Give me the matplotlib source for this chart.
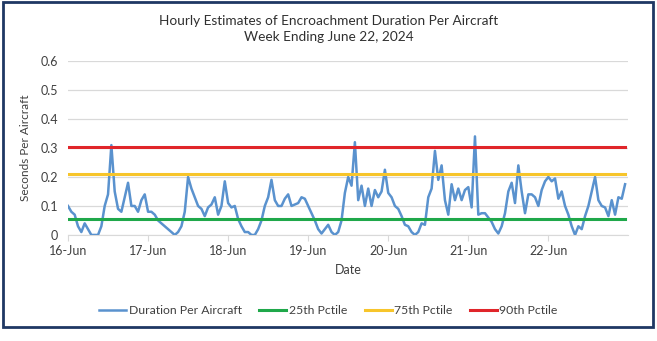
import numpy as np
import pandas as pd
import matplotlib
matplotlib.use('Agg')
import matplotlib.pyplot as plt
from matplotlib.patches import Rectangle

plt.rcParams['font.family'] = ['Lato', 'DejaVu Sans']

# hourly values, 16-Jun 00:00 .. 22-Jun 23:00
duration = [
    0.10, 0.08, 0.07, 0.03, 0.01, 0.04, 0.02, 0.00, 0.00, 0.00, 0.03, 0.10,
    0.14, 0.31, 0.15, 0.09, 0.08, 0.13, 0.18, 0.10, 0.10, 0.08, 0.12, 0.14,
    0.08, 0.08, 0.07, 0.05, 0.04, 0.03, 0.02, 0.01, 0.00, 0.01, 0.03, 0.08,
    0.20, 0.16, 0.13, 0.10, 0.09, 0.065, 0.095, 0.105, 0.13, 0.07, 0.10, 0.185,
    0.11, 0.095, 0.10, 0.055, 0.03, 0.01, 0.01, 0.00, 0.00, 0.02, 0.05, 0.10,
    0.13, 0.19, 0.12, 0.10, 0.10, 0.125, 0.14, 0.10, 0.105, 0.11, 0.13, 0.125,
    0.10, 0.075, 0.05, 0.02, 0.005, 0.02, 0.035, 0.01, 0.00, 0.01, 0.05, 0.145,
    0.20, 0.17, 0.32, 0.12, 0.17, 0.10, 0.16, 0.10, 0.155, 0.13, 0.15, 0.225,
    0.145, 0.13, 0.10, 0.09, 0.065, 0.035, 0.03, 0.01, 0.00, 0.01, 0.04, 0.035,
    0.13, 0.16, 0.29, 0.19, 0.24, 0.12, 0.07, 0.175, 0.12, 0.16, 0.12, 0.155,
    0.165, 0.095, 0.34, 0.07, 0.075, 0.075, 0.06, 0.045, 0.02, 0.005, 0.03, 0.075,
    0.15, 0.18, 0.11, 0.24, 0.15, 0.075, 0.14, 0.14, 0.13, 0.10, 0.155, 0.185,
    0.20, 0.185, 0.195, 0.125, 0.15, 0.10, 0.07, 0.03, 0.00, 0.03, 0.02, 0.065,
    0.10, 0.15, 0.20, 0.12, 0.10, 0.095, 0.065, 0.12, 0.07, 0.13, 0.125, 0.175,
]
p25 = 0.056
p75 = 0.212
p90 = 0.302
day_labels = ['16-Jun', '17-Jun', '18-Jun', '19-Jun', '20-Jun', '21-Jun', '22-Jun']

hours = np.arange(len(duration)) / 24.0

fig = plt.figure(figsize=(6.57, 3.41), dpi=100)
ax = fig.add_axes([0.1035, 0.311, 0.853, 0.510])

ax.plot(hours, duration, color='#5A92CE', lw=1.8, label='Duration Per Aircraft', zorder=3)
ax.plot([0, 6.96], [p25, p25], color='#1FA84A', lw=2.2, label='25th Pctile', zorder=4)
ax.plot([0, 6.96], [p75, p75], color='#F7C52B', lw=2.2, label='75th Pctile', zorder=4)
ax.plot([0, 6.96], [p90, p90], color='#E0252A', lw=2.2, label='90th Pctile', zorder=4)

ax.set_xlim(0, 7)
ax.set_ylim(0, 0.6)
ax.set_yticks(np.arange(0, 0.61, 0.1))
ax.set_yticklabels(['0', '0.1', '0.2', '0.3', '0.4', '0.5', '0.6'])
ax.set_xticks(range(len(day_labels)))
ax.set_xticklabels(day_labels)
ax.grid(axis='y', color='#D9D9D9', lw=0.9)
ax.set_axisbelow(True)
for s in ['top', 'right', 'left']:
    ax.spines[s].set_visible(False)
ax.spines['bottom'].set_color('#D9D9D9')
ax.tick_params(axis='y', length=0, labelsize=9, colors='#404040', pad=7)
ax.tick_params(axis='x', length=4, color='#D9D9D9', labelsize=9, colors='#404040', pad=3)

ax.set_xlabel('Date', fontsize=9, color='#404040', labelpad=5)
ax.set_ylabel('Seconds Per Aircraft', fontsize=8.5, color='#404040', labelpad=7)

fig.text(0.50, 0.915, 'Hourly Estimates of Encroachment Duration Per Aircraft\nWeek Ending June 22, 2024',
         ha='center', va='center', fontsize=9.8, color='#303030', linespacing=1.4)

fig.legend(loc='center', bbox_to_anchor=(0.50, 0.09), ncol=4, frameon=False,
           fontsize=8.8, handlelength=2.2, handletextpad=0.2, columnspacing=1.45,
           labelcolor='#404040')

fig.patches.append(Rectangle((0.004, 0.04), 0.99, 0.953, transform=fig.transFigure,
                             fill=False, edgecolor='#1F3864', lw=2.0))

fig.savefig('out.png', dpi=100)
